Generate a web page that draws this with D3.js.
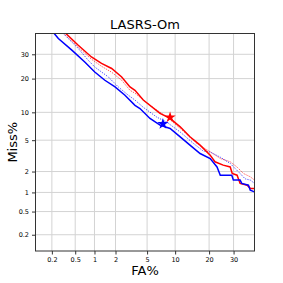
<!DOCTYPE html>
<html lang="en">
<head>
  <meta charset="UTF-8">
  <title>LASRS-Om DET</title>
  <script src="https://d3js.org/d3.v7.min.js"></script>
  <style>
    body { margin: 0; background: #fff; }
    text { font-family: 'DejaVu Sans', sans-serif; fill: #000; }
    .tick text { font-size: 6.5px; }
    .tick line { stroke: #333; }
    .domain { display: none; }
  </style>
</head>
<body>
  <svg width="283" height="283"></svg>

  <script>
    // ticks (percent)
    const xTicks = [0.2, 0.5, 1, 2, 5, 10, 20, 30];
    const yTicks = [0.2, 0.5, 1, 2, 5, 10, 20, 30];
    const tickLabels = ["0.2", "0.5", "1", "2", "5", "10", "20", "30"];

    // curves: [FA%, Miss%]
    const redSolid = [[0.35,40],[0.56,34.2],[0.9,28.8],[1.27,26.0],[1.77,23.9],[2.42,20.6],[3.1,17.1],[3.58,16.0],
      [4.51,13.1],[6.98,9.75],[8.9,8.67],[11.2,7.07],[13.8,5.47],[16.9,4.37],[20.4,3.29],[22.2,2.7],[25.5,2.44],
      [28.5,2.31],[29.4,1.88],[31.6,1.78],[33.0,1.36],[36.4,1.28],[37.9,1.15],[40,1.15]];
    const redDotted = [[0.32,40],[0.55,33.5],[0.9,27.8],[1.27,24.8],[1.77,22.4],[2.42,19.4],[3.1,16.0],[3.58,15.1],
      [5.4,11.7],[8.23,9.0],[11.2,6.79],[15.8,4.58],[20.4,3.62],[24.3,2.98],[28.5,2.70],[31.5,2.31],[34.6,1.88],
      [37.9,1.69],[40,1.52]];
    const blueSolid = [[0.22,40],[0.26,37.5],[0.44,31.9],[0.71,26.6],[1.01,22.5],[1.42,19.4],[1.97,17.1],[2.67,14.5],
      [3.58,11.7],[4.12,10.9],[5.4,8.67],[6.98,7.37],[8.9,6.79],[11.2,5.47],[13.8,4.37],[16.9,3.45],[20.4,2.98],
      [23.0,2.31],[24.3,1.78],[29.2,1.78],[29.9,1.52],[33.0,1.52],[33.8,1.36],[37.0,1.28],[37.9,1.08],[40,1.02]];
    const blueDotted = [[0.315,40],[0.56,32.7],[0.8,27.4],[1.01,24.5],[1.59,20.6],[2.18,17.1],[2.95,14.5],[3.58,13.1],
      [4.51,11.2],[6.43,8.95],[8.23,7.93],[11.2,6.2],[14.8,4.58],[18.0,3.69],[20.4,3.6],[24.3,3.10],[28.5,2.57],
      [30.7,2.2],[33.0,1.88],[35.4,1.58],[37.9,1.52],[40,1.36]];
    // operating points
    const redPoint = [8.9, 8.9];
    const bluePoint = [7.5, 7.6];

    // inverse normal CDF (Acklam)
    function probit(p) {
      const a = [-39.69683028665376, 220.9460984245205, -275.9285104469687, 138.3577518672690, -30.66479806614716, 2.506628277459239];
      const b = [-54.47609879822406, 161.5858368580409, -155.6989798598866, 66.80131188771972, -13.28068155288572];
      const c = [-0.007784894002430293, -0.3223964580411365, -2.400758277161838, -2.549732539343734, 4.374664141464968, 2.938163982698783];
      const d = [0.007784695709041462, 0.3224671290700398, 2.445134137142996, 3.754408661907416];
      const lo = 0.02425;
      let q, r;
      if (p < lo) {
        q = Math.sqrt(-2 * Math.log(p));
        return (((((c[0]*q+c[1])*q+c[2])*q+c[3])*q+c[4])*q+c[5]) / ((((d[0]*q+d[1])*q+d[2])*q+d[3])*q+1);
      } else if (p <= 1 - lo) {
        q = p - 0.5; r = q * q;
        return (((((a[0]*r+a[1])*r+a[2])*r+a[3])*r+a[4])*r+a[5])*q / (((((b[0]*r+b[1])*r+b[2])*r+b[3])*r+b[4])*r+1);
      }
      q = Math.sqrt(-2 * Math.log(1 - p));
      return -(((((c[0]*q+c[1])*q+c[2])*q+c[3])*q+c[4])*q+c[5]) / ((((d[0]*q+d[1])*q+d[2])*q+d[3])*q+1);
    }
    const pr = v => probit(v / 100);

    const svg = d3.select("svg");
    const margin = { top: 33.5, right: 28.5, bottom: 32, left: 35.5 };
    const width = 283 - margin.left - margin.right;
    const height = 283 - margin.top - margin.bottom;
    const g = svg.append("g").attr("transform", `translate(${margin.left},${margin.top})`);

    const x = d3.scaleLinear().domain([pr(0.1), pr(40)]).range([0, width]);
    const y = d3.scaleLinear().domain([pr(0.1), pr(40)]).range([height, 0]);

    // grid
    g.append("g").selectAll("line").data(xTicks).join("line")
      .attr("x1", d => x(pr(d))).attr("x2", d => x(pr(d)))
      .attr("y1", 0).attr("y2", height)
      .attr("stroke", "#d3d3d3").attr("stroke-width", 1);
    g.append("g").selectAll("line").data(yTicks).join("line")
      .attr("y1", d => y(pr(d))).attr("y2", d => y(pr(d)))
      .attr("x1", 0).attr("x2", width)
      .attr("stroke", "#d3d3d3").attr("stroke-width", 1);

    // axes
    g.append("g")
      .attr("transform", `translate(0,${height})`)
      .call(d3.axisBottom(x).tickValues(xTicks.map(pr)).tickFormat((d, i) => tickLabels[i]).tickSize(3.5).tickPadding(3));
    g.append("g")
      .call(d3.axisLeft(y).tickValues(yTicks.map(pr)).tickFormat((d, i) => tickLabels[i]).tickSize(3.5).tickPadding(3));

    g.append("clipPath").attr("id", "clip")
      .append("rect").attr("width", width).attr("height", height);

    const line = d3.line()
      .x(d => x(pr(d[0])))
      .y(d => y(pr(d[1])));

    const curves = [
      { data: redDotted, color: "#ff0000", w: 1, dash: "1.2,1.2", op: 0.7 },
      { data: blueDotted, color: "#0000ff", w: 1, dash: "1.2,1.2", op: 0.7 },
      { data: redSolid, color: "#ff0000", w: 1.5, dash: null, op: 1 },
      { data: blueSolid, color: "#0000ff", w: 1.5, dash: null, op: 1 }
    ];
    const lines = g.append("g").attr("clip-path", "url(#clip)");
    curves.forEach(c => {
      lines.append("path")
        .datum(c.data)
        .attr("fill", "none")
        .attr("stroke", c.color)
        .attr("stroke-width", c.w)
        .attr("stroke-dasharray", c.dash)
        .attr("stroke-opacity", c.op)
        .attr("d", line);
    });

    // stars
    [[redPoint, "#ff0000"], [bluePoint, "#0000ff"]].forEach(([p, col]) => {
      g.append("path")
        .attr("d", d3.symbol(d3.symbolStar, 40)())
        .attr("transform", `translate(${x(pr(p[0]))},${y(pr(p[1]))})`)
        .attr("fill", col);
    });

    // frame
    g.append("rect")
      .attr("width", width).attr("height", height)
      .attr("fill", "none").attr("stroke", "#333").attr("stroke-width", 1);

    // labels
    svg.append("text")
      .attr("x", margin.left + width / 2).attr("y", 29)
      .attr("text-anchor", "middle").style("font-size", "13px")
      .text("LASRS-Om");
    svg.append("text")
      .attr("x", margin.left + width / 2).attr("y", 275)
      .attr("text-anchor", "middle").style("font-size", "13px")
      .text("FA%");
    svg.append("text")
      .attr("transform", `translate(17,${margin.top + height / 2}) rotate(-90)`)
      .attr("text-anchor", "middle").style("font-size", "13px")
      .text("Miss%");
  </script>
</body>
</html>
